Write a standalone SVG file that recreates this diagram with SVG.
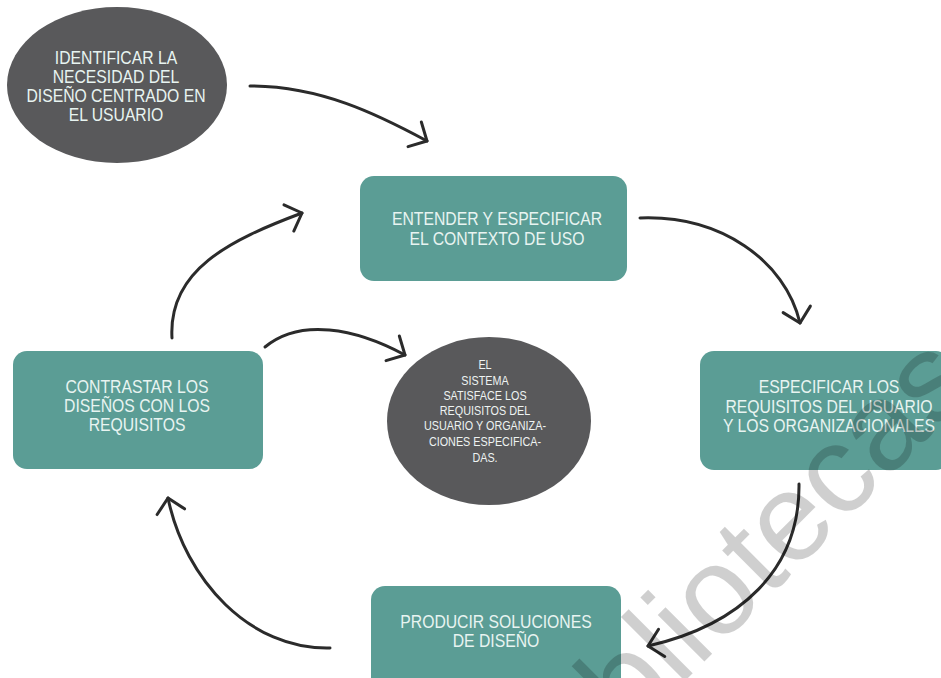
<svg xmlns="http://www.w3.org/2000/svg" width="941" height="678" viewBox="0 0 941 678">
<style>
.box{fill:#5b9d95;}
.oval{fill:#59595b;}
.t{font-family:"Liberation Sans",Arial,sans-serif;font-size:17.5px;fill:#e8f4f1;text-anchor:middle;}
.ts{font-family:"Liberation Sans",Arial,sans-serif;font-size:13.5px;fill:#eef3f2;text-anchor:middle;}
.c{fill:none;stroke:#2b2b2b;stroke-width:3;stroke-linecap:round;}
.wm{font-family:"Liberation Sans",Arial,sans-serif;font-size:125px;fill:#000;fill-opacity:0.19;}
</style>
<defs>
<marker id="ah" markerUnits="userSpaceOnUse" markerWidth="40" markerHeight="40" viewBox="-20 -20 40 40" refX="0" refY="0" orient="auto" overflow="visible">
<path d="M-14,-14 L0,0 L-14,14" fill="none" stroke="#2b2b2b" stroke-width="3" stroke-linecap="round" stroke-linejoin="round"/>
</marker>
</defs>
<rect width="941" height="678" fill="#ffffff"/>
<g id="connectors">
<path class="c" d="M250,86 C320,86 377,114 427,141" marker-end="url(#ah)"/>
<path class="c" d="M640,218 C720,215 785,260 800,323" marker-end="url(#ah)"/>
<path class="c" d="M799,484 C800,570 740,625 648,646" marker-end="url(#ah)"/>
<path class="c" d="M330,648 C250,650 185,580 168,498" marker-end="url(#ah)"/>
<path class="c" d="M172,338 C168,270 230,240 302,213" marker-end="url(#ah)"/>
<path class="c" d="M265,347 C300,318 355,328 405,355" marker-end="url(#ah)"/>
</g>
<g id="n-identificar">
<ellipse class="oval" cx="117" cy="85" rx="110" ry="78"/>
<g transform="translate(116 0) scale(0.9 1)">
<text class="t" x="0" y="64">IDENTIFICAR LA</text>
<text class="t" x="0" y="83">NECESIDAD DEL</text>
<text class="t" x="0" y="102">DISEÑO CENTRADO EN</text>
<text class="t" x="0" y="121">EL USUARIO</text>
</g>
</g>
<g id="n-entender">
<rect class="box" x="360" y="176" width="267" height="105" rx="14"/>
<g transform="translate(497 0) scale(0.9 1)">
<text class="t" x="0" y="225">ENTENDER Y ESPECIFICAR</text>
<text class="t" x="0" y="245">EL CONTEXTO DE USO</text>
</g>
</g>
<g id="n-especificar">
<rect class="box" x="700" y="351" width="250" height="119" rx="14"/>
<g transform="translate(829 0) scale(0.9 1)">
<text class="t" x="0" y="393">ESPECIFICAR LOS</text>
<text class="t" x="0" y="413">REQUISITOS DEL USUARIO</text>
<text class="t" x="0" y="432">Y LOS ORGANIZACIONALES</text>
</g>
</g>
<g id="n-producir">
<rect class="box" x="371" y="586" width="250" height="118" rx="14"/>
<g transform="translate(496 0) scale(0.9 1)">
<text class="t" x="0" y="628">PRODUCIR SOLUCIONES</text>
<text class="t" x="0" y="647">DE DISEÑO</text>
</g>
</g>
<g id="n-contrastar">
<rect class="box" x="13" y="351" width="250" height="118" rx="14"/>
<g transform="translate(137 0) scale(0.9 1)">
<text class="t" x="0" y="393">CONTRASTAR LOS</text>
<text class="t" x="0" y="412">DISEÑOS CON LOS</text>
<text class="t" x="0" y="431">REQUISITOS</text>
</g>
</g>
<g id="n-sistema">
<ellipse class="oval" cx="489" cy="421" rx="102" ry="84"/>
<g transform="translate(485 0) scale(0.8 1)">
<text class="ts" x="0" y="369">EL</text>
<text class="ts" x="0" y="385">SISTEMA</text>
<text class="ts" x="0" y="400">SATISFACE LOS</text>
<text class="ts" x="0" y="415">REQUISITOS DEL</text>
<text class="ts" x="0" y="430">USUARIO Y ORGANIZA-</text>
<text class="ts" x="0" y="446">CIONES ESPECIFICA-</text>
<text class="ts" x="0" y="462">DAS.</text>
</g>
</g>
<g id="watermark">
<text class="wm" transform="translate(561 805) rotate(-45)">bibliotecas</text>
</g>
</svg>
